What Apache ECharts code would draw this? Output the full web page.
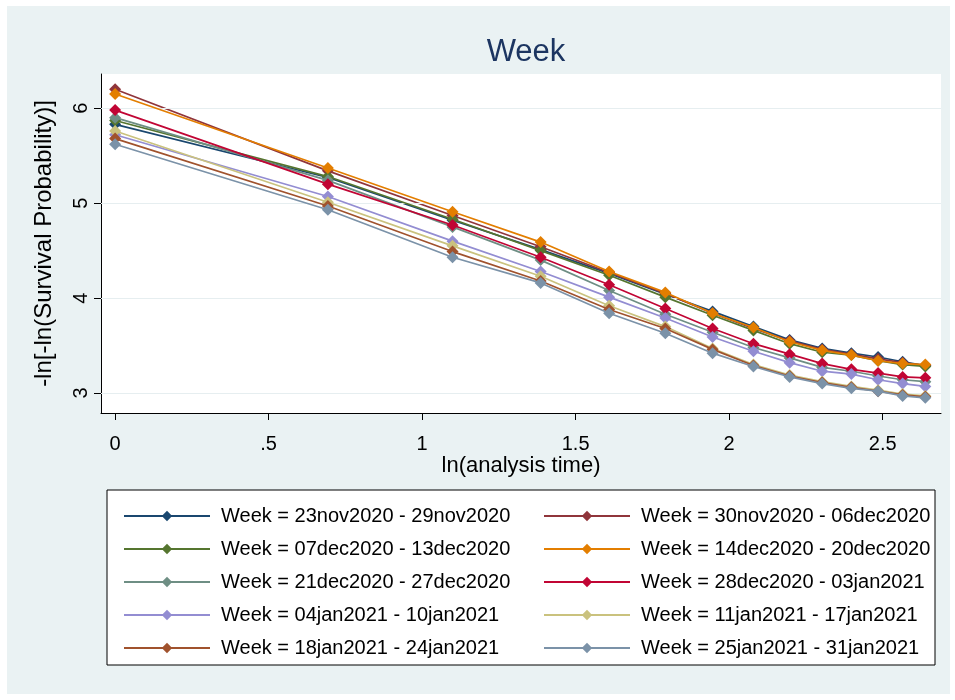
<!DOCTYPE html>
<html>
<head>
<meta charset="utf-8">
<script src="https://cdn.jsdelivr.net/npm/echarts@6/dist/echarts.min.js"></script>
<style>html,body{margin:0;padding:0;background:#fff}#c{width:955px;height:700px}</style>
</head>
<body>
<div id="c"></div>
<script>
const lnTime = [0, 0.693, 1.099, 1.386, 1.609, 1.792, 1.946, 2.079, 2.197, 2.303, 2.398, 2.485, 2.565, 2.639];
const weekNames = [
  'Week = 23nov2020 - 29nov2020', 'Week = 30nov2020 - 06dec2020',
  'Week = 07dec2020 - 13dec2020', 'Week = 14dec2020 - 20dec2020',
  'Week = 21dec2020 - 27dec2020', 'Week = 28dec2020 - 03jan2021',
  'Week = 04jan2021 - 10jan2021', 'Week = 11jan2021 - 17jan2021',
  'Week = 18jan2021 - 24jan2021', 'Week = 25jan2021 - 31jan2021'
];
const w23nov = [5.83, 5.27, 4.82, 4.51, 4.26, 4.04, 3.86, 3.70, 3.56, 3.47, 3.42, 3.38, 3.33, 3.29];
const w30nov = [6.20, 5.34, 4.87, 4.54, 4.27, 4.05, 3.84, 3.68, 3.55, 3.46, 3.41, 3.36, 3.32, 3.29];
const w07dec = [5.87, 5.28, 4.83, 4.50, 4.24, 4.01, 3.82, 3.66, 3.52, 3.43, 3.40, 3.34, 3.30, 3.28];
const w14dec = [6.15, 5.37, 4.91, 4.59, 4.28, 4.06, 3.84, 3.69, 3.54, 3.45, 3.40, 3.34, 3.31, 3.30];
const w21dec = [5.90, 5.24, 4.75, 4.40, 4.08, 3.83, 3.64, 3.48, 3.37, 3.27, 3.23, 3.18, 3.14, 3.12];
const w28dec = [5.98, 5.20, 4.77, 4.43, 4.14, 3.89, 3.68, 3.52, 3.41, 3.31, 3.25, 3.21, 3.17, 3.16];
const w04jan = [5.72, 5.07, 4.60, 4.28, 4.01, 3.79, 3.59, 3.44, 3.32, 3.23, 3.20, 3.14, 3.10, 3.07];
const w11jan = [5.76, 5.01, 4.55, 4.23, 3.92, 3.70, 3.47, 3.30, 3.19, 3.12, 3.07, 3.03, 2.99, 2.97];
const w18jan = [5.68, 4.97, 4.49, 4.18, 3.88, 3.68, 3.46, 3.29, 3.18, 3.11, 3.06, 3.02, 2.98, 2.96];
const w25jan = [5.62, 4.93, 4.43, 4.16, 3.84, 3.63, 3.42, 3.28, 3.17, 3.10, 3.05, 3.02, 2.97, 2.95];
const xTicks = [0, 0.5, 1, 1.5, 2, 2.5];
const xTickLabels = ['0', '.5', '1', '1.5', '2', '2.5'];
const yTicks = [3, 4, 5, 6];

const seriesValues = [w23nov, w30nov, w07dec, w14dec, w21dec, w28dec, w04jan, w11jan, w18jan, w25jan];
const colors = ['#1a476f', '#90353b', '#55752f', '#e37e00', '#6e8e84', '#c10534', '#938dd2', '#cac27e', '#a0522d', '#7b92a8'];
const FONT = 'Liberation Sans, Arial, sans-serif';

const series = seriesValues.map((vals, i) => ({
  name: weekNames[i],
  type: 'line',
  data: vals.map((v, j) => [lnTime[j], v]),
  symbol: 'diamond',
  symbolSize: 12,
  showSymbol: true,
  lineStyle: { width: 1.7, color: colors[i] },
  itemStyle: { color: colors[i] },
  z: 3 + i,
  animation: false
}));
series.push({
  type: 'line', data: [], silent: true, animation: false, z: 1,
  markLine: {
    silent: true, symbol: 'none', label: { show: false },
    lineStyle: { color: '#e6eef0', width: 1, type: 'solid' },
    data: yTicks.map(v => ({ yAxis: v }))
  }
});

const chart = echarts.init(document.getElementById('c'), null, { renderer: 'canvas' });
chart.setOption({
  backgroundColor: '#ffffff',
  animation: false,
  color: colors,
  graphic: [
    { type: 'rect', shape: { x: 7, y: 6, width: 943, height: 688 }, style: { fill: '#eaf2f3' }, z: -10, silent: true },
    { type: 'rect', shape: { x: 107, y: 490, width: 828, height: 175 }, style: { fill: '#ffffff', stroke: '#000', lineWidth: 1 }, z: -5, silent: true }
  ],
  title: {
    text: 'Week', left: 521, textAlign: 'center', top: 32,
    textStyle: { fontFamily: FONT, fontSize: 31, fontWeight: 'normal', color: '#1c3561' }
  },
  grid: { left: 101, right: 14, top: 74, bottom: 287, show: true, backgroundColor: '#ffffff', borderWidth: 0 },
  xAxis: {
    type: 'value', min: -0.046, max: 2.69,
    name: 'ln(analysis time)', nameLocation: 'middle', nameGap: 40,
    nameTextStyle: { fontFamily: FONT, fontSize: 22, color: '#000' },
    axisLine: { show: true, onZero: false, lineStyle: { color: '#000', width: 1 } },
    axisTick: { show: true, length: 7, customValues: xTicks, lineStyle: { color: '#000' } },
    axisLabel: { customValues: xTicks, margin: 21, fontFamily: FONT, fontSize: 20, color: '#000',
      formatter: v => { const k = xTicks.indexOf(v); return k >= 0 ? xTickLabels[k] : ''; } },
    splitLine: { show: false }
  },
  yAxis: {
    type: 'value', min: 2.79, max: 6.36,
    name: '-ln[-ln(Survival Probability)]', nameLocation: 'middle', nameGap: 45, nameRotate: 90,
    nameTextStyle: { fontFamily: FONT, fontSize: 24, color: '#000' },
    axisLine: { show: true, onZero: false, lineStyle: { color: '#000', width: 1 } },
    axisTick: { show: true, length: 7, customValues: yTicks, lineStyle: { color: '#000' } },
    axisLabel: { customValues: yTicks, rotate: 90, margin: 10, fontFamily: FONT, fontSize: 20, color: '#000' },
    splitLine: { show: false }
  },
  legend: [
    { data: weekNames.filter((n, i) => i % 2 === 0), orient: 'vertical', left: 118, top: 501,
      itemWidth: 86, itemHeight: 13, itemGap: 13, textStyle: { fontFamily: FONT, fontSize: 20, color: '#000', padding: [0, 0, 0, 6] } },
    { data: weekNames.filter((n, i) => i % 2 === 1), orient: 'vertical', left: 538, top: 501,
      itemWidth: 86, itemHeight: 13, itemGap: 13, textStyle: { fontFamily: FONT, fontSize: 20, color: '#000', padding: [0, 0, 0, 6] } }
  ],
  series: series
});
</script>
</body>
</html>
